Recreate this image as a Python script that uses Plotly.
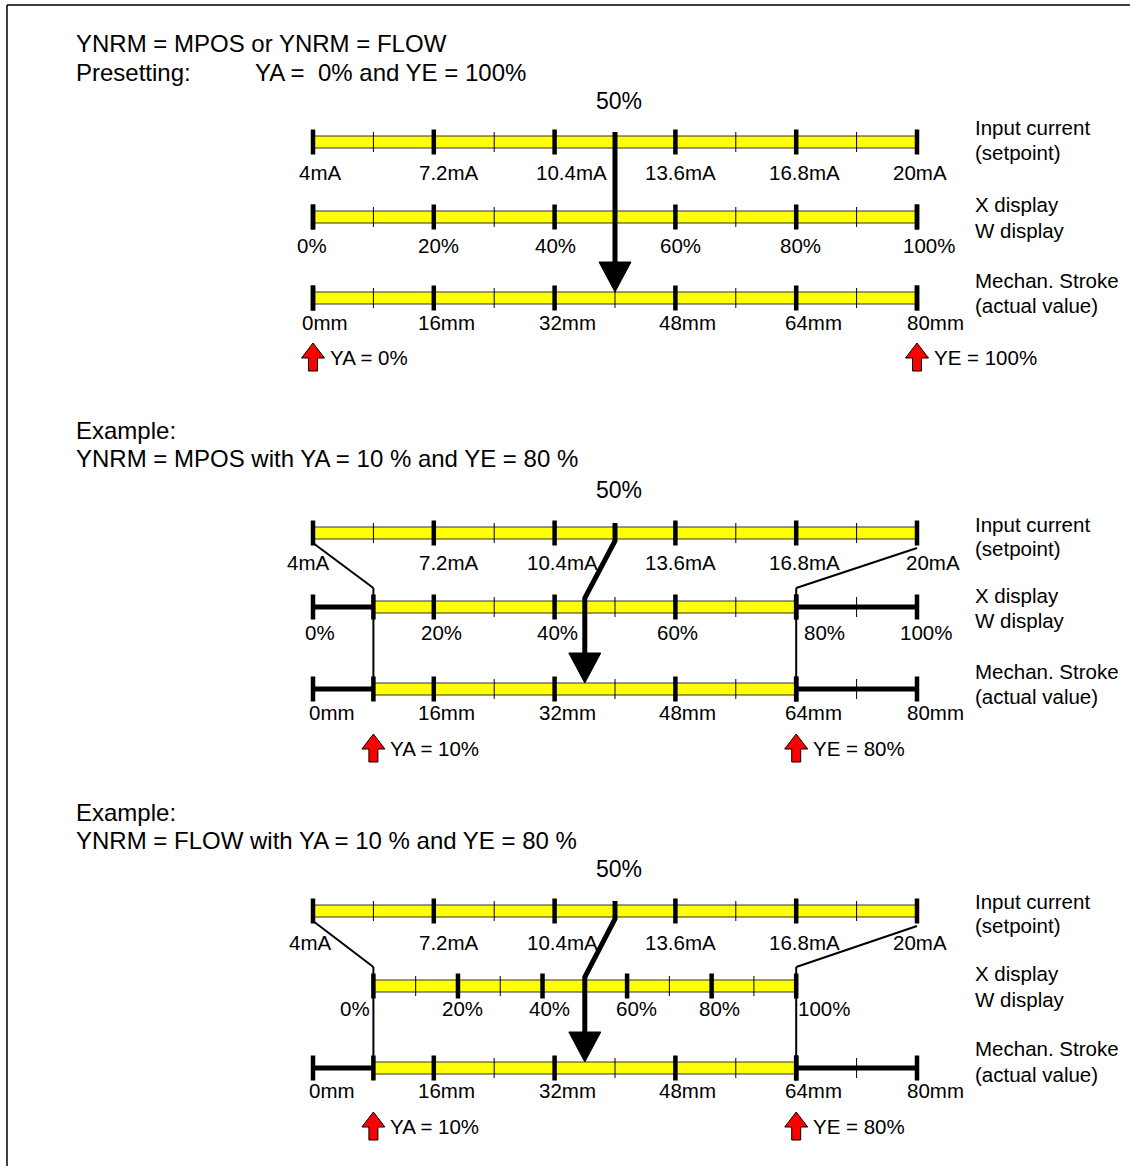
import plotly.graph_objects as go

# scale values and their labels
current_ma = [4, 7.2, 10.4, 13.6, 16.8, 20]
current_labels = ["4mA", "7.2mA", "10.4mA", "13.6mA", "16.8mA", "20mA"]
display_pct = [0, 20, 40, 60, 80, 100]
display_labels = ["0%", "20%", "40%", "60%", "80%", "100%"]
stroke_mm = [0, 16, 32, 48, 64, 80]
stroke_labels = ["0mm", "16mm", "32mm", "48mm", "64mm", "80mm"]

# the three cases shown
case_mode = ["MPOS", "MPOS", "FLOW"]
case_ya = [0, 10, 10]
case_ye = [100, 80, 80]
setpoint_pct = 50
case_head1 = ["YNRM = MPOS or YNRM = FLOW", "Example:", "Example:"]
case_head2 = ["Presetting:", "YNRM = MPOS with YA = 10 % and YE = 80 %",
              "YNRM = FLOW with YA = 10 % and YE = 80 %"]
row_names = [("Input current", "(setpoint)"), ("X display", "W display"),
             ("Mechan. Stroke", "(actual value)")]

# ---- layout (pixels) ----
W, H = 1130, 1166
X0, X1 = 313, 917          # 0 % and 100 % of every bar
PX = (X1 - X0) / 100.0     # pixels per percent
FONT = "Liberation Sans, Arial, Helvetica, sans-serif"

panels = [
    dict(head=(43, 72), mid=101, rows=(142, 217, 298), labs=(172, 245, 322),
         names=((127, 152), (204, 230), (280, 305)), red=343,
         offs=([7, 15, 17, 5, 8, 3], [-1, 5, 1, 5, 4, 12], [12, 13, 13, 12, 17, 18])),
    dict(head=(430, 458), mid=490, rows=(533, 607, 689), labs=(562, 632, 712),
         names=((524, 548), (595, 620), (671, 696)), red=734,
         offs=([-5, 15, 8, 5, 8, 16], [7, 8, 3, 2, 28, 9], [19, 13, 13, 12, 17, 18])),
    dict(head=(812, 840), mid=869, rows=(911, 986, 1068), labs=(942, 1008, 1090),
         names=((901, 925), (973, 999), (1048, 1074)), red=1112,
         offs=([-3, 15, 8, 5, 8, 3], [-18, 5, 7, 9, 8, 28], [19, 13, 13, 12, 17, 18])),
]


def p(px):
    return px / PX


fig = go.Figure()
shapes = []
ann = []


def text(x, y, s, size=20.5, anchor="center"):
    ann.append(dict(x=x, y=y, xref="x", yref="y", text=s, showarrow=False,
                    xanchor=anchor, yanchor="middle", xshift=-2 if anchor == "left" else 0,
                    font=dict(family=FONT, size=size, color="black")))


def segs(pairs, width, color="black"):
    xs, ys = [], []
    for (xa, ya_), (xb, yb) in pairs:
        xs += [xa, xb, None]
        ys += [ya_, yb, None]
    fig.add_trace(go.Scatter(x=xs, y=ys, mode="lines", hoverinfo="skip",
                             line=dict(color=color, width=width), showlegend=False))


def poly(xs, ys, fill, lw=1):
    fig.add_trace(go.Scatter(x=xs + [xs[0]], y=ys + [ys[0]], mode="lines", fill="toself",
                             fillcolor=fill, line=dict(color="black", width=lw),
                             hoverinfo="skip", showlegend=False))


def bar(y, lo, hi, majors, minors, full_lo=None, full_hi=None):
    shapes.append(dict(type="rect", xref="x", yref="y", x0=lo, x1=hi, y0=y - 6, y1=y + 6,
                       fillcolor="#ffff00", line=dict(color="#333333", width=1), layer="below"))
    outside = []
    if full_lo is not None and full_lo < lo:
        outside.append(((full_lo, y), (lo, y)))
    if full_hi is not None and full_hi > hi:
        outside.append(((hi, y), (full_hi, y)))
    if outside:
        segs(outside, 5)
    segs([((u, y - 10), (u, y + 10)) for u in minors], 1)
    segs([((u, y - 12.5), (u, y + 12.5)) for u in majors], 4.5)


for k, pn in enumerate(panels):
    ya, ye = case_ya[k], case_ye[k]
    y_in, y_dp, y_st = pn["rows"]
    l_in, l_dp, l_st = pn["labs"]
    o_in, o_dp, o_st = pn["offs"]

    text(p(76 - X0), pn["head"][0], case_head1[k], 24, "left")
    text(p(76 - X0), pn["head"][1], case_head2[k], 24, "left")
    if k == 0:
        text(p(255 - X0), pn["head"][1], "YA =  0% and YE = 100%", 24, "left")
    text(setpoint_pct + p(4), pn["mid"], "%d%%" % setpoint_pct, 23)

    # input current row
    u_in = [(v - current_ma[0]) / (current_ma[-1] - current_ma[0]) * 100 for v in current_ma]
    mid_in = [(a + b) / 2 for a, b in zip(u_in[:-1], u_in[1:])]
    bar(y_in, 0, 100, u_in, mid_in)
    for u, s, o in zip(u_in, current_labels, o_in):
        text(u + p(o), l_in, s)

    # display row
    if case_mode[k] == "FLOW":
        u_dp = [ya + v * (ye - ya) / 100 for v in display_pct]
        mid_dp = [(a + b) / 2 for a, b in zip(u_dp[:-1], u_dp[1:])]
        bar(y_dp, ya, ye, u_dp, mid_dp)
    else:
        u_dp = list(display_pct)
        mid_dp = [(a + b) / 2 for a, b in zip(u_dp[:-1], u_dp[1:])]
        bar(y_dp, ya, ye, u_dp + [ya, ye], [m for m in mid_dp if m not in (ya, ye)], 0, 100)
    for u, s, o in zip(u_dp, display_labels, o_dp):
        text(u + p(o), l_dp, s)

    # stroke row
    u_st = [v / stroke_mm[-1] * 100 for v in stroke_mm]
    mid_st = [(a + b) / 2 for a, b in zip(u_st[:-1], u_st[1:])]
    bar(y_st, ya, ye, u_st + [ya, ye], [m for m in mid_st if m not in (ya, ye)], 0, 100)
    for u, s, o in zip(u_st, stroke_labels, o_st):
        text(u + p(o), l_st, s)

    # connectors from input ends to YA / YE
    if ya > 0 or ye < 100:
        segs([((0, y_in + 10), (ya, y_dp - 19)), ((ya, y_dp - 19), (ya, y_st - 6)),
              ((100, y_in + 15), (ye, y_dp - 19)), ((ye, y_dp - 19), (ye, y_st - 6))], 2)

    # setpoint arrow
    u_out = ya + setpoint_pct * (ye - ya) / 100
    fig.add_trace(go.Scatter(x=[setpoint_pct, setpoint_pct, u_out, u_out],
                             y=[y_in - 10, y_in + 8, y_dp - 9, y_st - 34],
                             mode="lines", line=dict(color="black", width=5),
                             hoverinfo="skip", showlegend=False))
    poly([u_out - p(16), u_out + p(16), u_out], [y_st - 36, y_st - 36, y_st - 6], "black")

    # red YA / YE markers
    for u, lab in ((ya, "YA = %d%%" % ya), (ye, "YE = %d%%" % ye)):
        t = pn["red"]
        poly([u, u + p(11.5), u + p(4.5), u + p(4.5), u - p(4.5), u - p(4.5), u - p(11.5)],
             [t, t + 15, t + 15, t + 28, t + 28, t + 15, t + 15], "#ff0000")
        text(u + p(17), t + 14, lab, 20.5, "left")

    # right-hand row names
    for (n1, n2), (y1, y2) in zip(row_names, pn["names"]):
        text(p(975 - X0), y1, n1, 20.5, "left")
        text(p(975 - X0), y2, n2, 20.5, "left")

# frame lines
shapes.append(dict(type="line", xref="x", yref="y", x0=p(7 - X0), x1=p(W - X0), y0=5, y1=5,
                   line=dict(color="black", width=1.5)))
shapes.append(dict(type="line", xref="x", yref="y", x0=p(7 - X0), x1=p(7 - X0), y0=5, y1=H,
                   line=dict(color="black", width=1.5)))

fig.update_layout(
    width=W, height=H, autosize=False,
    margin=dict(l=0, r=0, t=0, b=0),
    paper_bgcolor="white", plot_bgcolor="white",
    shapes=shapes, annotations=ann, showlegend=False,
    xaxis=dict(range=[p(-X0), p(W - X0)], visible=False, fixedrange=True),
    yaxis=dict(range=[H, 0], visible=False, fixedrange=True),
)

fig.write_html("out.html", config={"displayModeBar": False},
               post_script="document.body.style.margin='0';")
